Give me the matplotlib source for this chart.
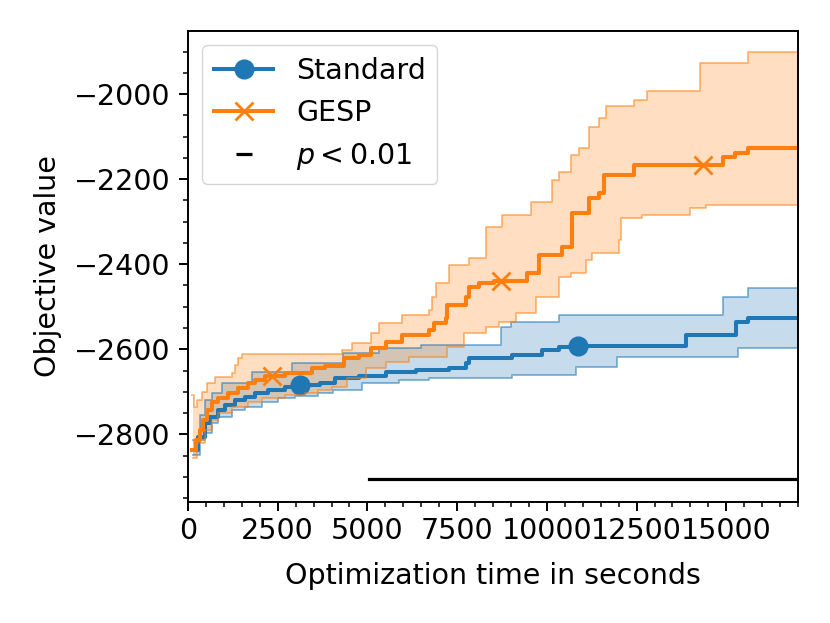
import numpy as np
import matplotlib
matplotlib.use("Agg")
import matplotlib.pyplot as plt
from matplotlib.lines import Line2D
from matplotlib.ticker import AutoMinorLocator

# ---------------- data (step functions, 'post') ----------------
t_end = 17000

std_mean_t = [139, 278, 472, 611, 833, 1028, 1306, 1583, 1861, 2222, 2694, 2972, 3111, 3667, 4083,
              4778, 5528, 6361, 7278, 7750, 7833, 9028, 9861, 10333, 10750, 10861, 13889, 15278, 15611]
std_mean_v = [-2837, -2806, -2773, -2759, -2743, -2731, -2719, -2712, -2703, -2696, -2689, -2684, -2684, -2679, -2667,
              -2663, -2653, -2649, -2644, -2632, -2620, -2613, -2602, -2595, -2592, -2592, -2567, -2536, -2527]

std_up_t = [139, 333, 472, 667, 944, 1778, 2889, 4306, 5333, 6500, 8722, 9000, 10333, 14917, 15611]
std_up_v = [-2813, -2754, -2719, -2703, -2679, -2653, -2632, -2609, -2597, -2590, -2548, -2536, -2519, -2477, -2456]

std_lo_t = [139, 333, 472, 667, 833, 1222, 1583, 2056, 2500, 2972, 3611, 4028, 4861, 5889, 6722, 9028,
            10806, 11944, 15333]
std_lo_v = [-2848, -2813, -2797, -2773, -2759, -2743, -2736, -2724, -2714, -2710, -2703, -2696, -2679, -2672, -2667, -2660,
            -2641, -2618, -2597]

gesp_mean_t = [111, 222, 333, 417, 528, 667, 833, 1111, 1389, 1667, 1861, 2139, 2333, 2694, 3444, 3806, 4361,
               4778, 5111, 5528, 5972, 6722, 6861, 7194, 7222, 7750, 7833, 8111, 8528, 8714, 9444, 9778,
               10417, 10694, 11167, 11444, 11583, 12417, 14361, 14917, 15250, 15611]
gesp_mean_v = [-2837, -2813, -2790, -2766, -2743, -2724, -2714, -2703, -2691, -2679, -2672, -2663, -2663, -2656, -2644, -2639, -2620,
               -2613, -2597, -2583, -2566, -2555, -2538, -2526, -2496, -2477, -2454, -2444, -2439, -2439, -2421, -2378,
               -2360, -2280, -2244, -2233, -2190, -2167, -2167, -2148, -2139, -2127]

gesp_up_t = [111, 167, 250, 389, 528, 750, 1222, 1306, 1389, 1500, 4278, 4583, 5111, 5333, 5972, 6722, 6806,
             6917, 7278, 7833, 8306, 8750, 9556, 10139, 10333, 10667, 10889, 11167, 11444, 11639, 12417,
             12778, 14278, 15611]
gesp_up_v = [-2707, -2736, -2719, -2700, -2679, -2665, -2656, -2637, -2620, -2611, -2602, -2585, -2562, -2538, -2519, -2508, -2477,
             -2444, -2402, -2385, -2313, -2284, -2254, -2202, -2183, -2143, -2127, -2078, -2056, -2028, -2014,
             -1993, -1927, -1901]

gesp_lo_t = [139, 250, 472, 667, 833, 1222, 1667, 2056, 2694, 3250, 3611, 4000, 4417, 4972, 5528, 6167, 7222,
             7694, 8306, 8667, 9139, 9694, 10333, 10667, 11083, 11250, 12000, 12056, 12639, 14000, 14444]
gesp_lo_v = [-2855, -2820, -2790, -2766, -2750, -2736, -2724, -2714, -2707, -2703, -2696, -2689, -2667, -2644, -2630, -2618, -2595,
             -2562, -2548, -2536, -2515, -2477, -2430, -2421, -2390, -2374, -2343, -2291, -2284, -2268, -2261]

std_marker_t = [3111, 10861]
gesp_marker_t = [2333, 8714, 14361]

sig_start = 5056
sig_level = -2906

# ---------------- helpers ----------------
def extend(t, v):
    return np.array(list(t) + [t_end], float), np.array(list(v) + [v[-1]], float)

def step_eval(t, v, grid):
    idx = np.searchsorted(t, grid, side="right") - 1
    idx = np.clip(idx, 0, len(v) - 1)
    return np.asarray(v)[idx]

C_STD = "#1f77b4"
C_GESP = "#ff7f0e"

DPI = 100
fig = plt.figure(figsize=(8.3, 6.23), dpi=DPI)
ax = fig.add_axes([0.2265, 0.195, 0.735, 0.755])

FS = 20.5
LW = 2.9

def draw(mt, mv, ut, uv, lt, lv, color, marker, mtimes, label, ms, mew):
    mt, mv = extend(mt, mv)
    ut, uv = extend(ut, uv)
    lt, lv = extend(lt, lv)
    grid = np.unique(np.concatenate([ut, lt]))
    grid = grid[grid >= max(ut[0], lt[0])]
    up = step_eval(ut, uv, grid)
    lo = step_eval(lt, lv, grid)
    ax.fill_between(grid, lo, up, step="post", color=color, alpha=0.25, lw=0)
    ax.plot(ut, uv, drawstyle="steps-post", color=color, alpha=0.55, lw=1.3)
    ax.plot(lt, lv, drawstyle="steps-post", color=color, alpha=0.55, lw=1.3)
    idx = [int(np.searchsorted(mt, m)) for m in mtimes]
    ax.plot(mt, mv, drawstyle="steps-post", color=color, lw=LW, marker=marker,
            markevery=idx, ms=ms, mew=mew, label=label)

draw(std_mean_t, std_mean_v, std_up_t, std_up_v, std_lo_t, std_lo_v, C_STD, "o",
     std_marker_t, "Standard", 13, 1.5)
draw(gesp_mean_t, gesp_mean_v, gesp_up_t, gesp_up_v, gesp_lo_t, gesp_lo_v, C_GESP, "x",
     gesp_marker_t, "GESP", 13, 2.0)

ax.plot([sig_start, t_end], [sig_level, sig_level], color="black", lw=2.3)

ax.set_xlim(0, t_end)
ax.set_ylim(-2958, -1852)
ax.xaxis.set_minor_locator(AutoMinorLocator())
ax.yaxis.set_minor_locator(AutoMinorLocator())
ax.tick_params(which="major", length=6.5, width=1.4, labelsize=FS)
ax.tick_params(axis="x", which="major", pad=5)
ax.tick_params(axis="y", which="major", pad=6)
ax.tick_params(which="minor", length=3.7, width=1.1)
for s in ax.spines.values():
    s.set_linewidth(1.4)

ax.set_xlabel("Optimization time in seconds", fontsize=FS, labelpad=12)
ax.set_ylabel("Objective value", fontsize=FS, labelpad=9)

handles, labels = ax.get_legend_handles_labels()
handles.append(Line2D([], [], color="black", marker="_", ls="none", ms=12, mew=2.3))
labels.append("$p < 0.01$")
ax.legend(handles, labels, loc="upper left", fontsize=FS, handlelength=2.1,
          borderaxespad=0.5, framealpha=0.8, edgecolor="0.8")

fig.savefig("out.png", dpi=DPI)
